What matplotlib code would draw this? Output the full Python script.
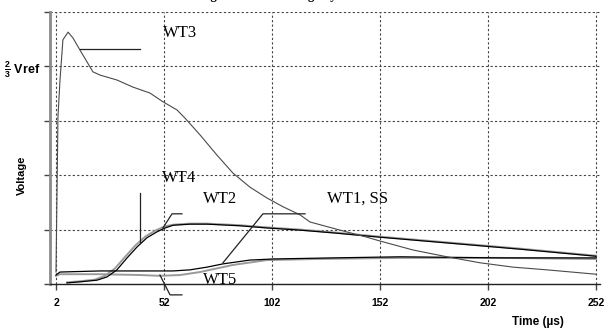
import matplotlib.pyplot as plt

plt.rcParams['font.family'] = ['Liberation Sans', 'DejaVu Sans']
plt.rcParams['mathtext.fontset'] = 'custom'
plt.rcParams['mathtext.rm'] = 'Liberation Sans:bold'
plt.rcParams['mathtext.bf'] = 'Liberation Sans:bold'

# time axis in microseconds, voltage in grid divisions (4 div = 2/3 Vref)
xticks = [2, 52, 102, 152, 202, 252]
yticks = [0, 1, 2, 3, 4, 5]
ytick_labels = ['', '', '', '', r'$\frac{2}{3}$ Vref', '']

wt3_t = [2.0, 2.4, 2.9, 3.85, 5.2, 7.6, 9.9, 13.1, 16.4, 19.1, 22.4, 30.2, 37.6,
         45.5, 51.5, 58.0, 61.7, 68.7, 76.5, 83.9, 91.8, 99.7, 107.1, 115.0,
         119.6, 133.5, 146.0, 152.0, 167.3, 183.0, 198.3, 213.6, 229.3, 252.0]
wt3_v = [0.22, 1.5, 3.07, 3.75, 4.49, 4.63, 4.52, 4.30, 4.08, 3.90, 3.84, 3.75,
         3.62, 3.51, 3.35, 3.20, 3.05, 2.74, 2.37, 2.04, 1.78, 1.58, 1.42, 1.27,
         1.14, 0.99, 0.86, 0.79, 0.625, 0.50, 0.39, 0.31, 0.26, 0.18]

wt2_t = [7.1, 13.1, 21.0, 25.6, 30.2, 34.9, 39.5, 44.1, 48.8, 52.5, 56.2, 64.0,
         71.9, 87.2, 99.7, 115.0, 130.2, 152.0, 184.4, 216.8, 252.0]
wt2_v = [0.02, 0.04, 0.07, 0.13, 0.26, 0.48, 0.68, 0.85, 0.96, 1.03, 1.08, 1.10,
         1.10, 1.07, 1.03, 0.99, 0.94, 0.86, 0.75, 0.64, 0.51]

wt4_t = [7.1, 13.1, 20.0, 24.6, 29.4, 34.0, 38.8, 43.6, 48.4, 52.5, 56.2, 64.0,
         71.9, 87.2, 99.7, 115.0, 130.2, 152.0, 184.4, 216.8, 252.0]
wt4_v = [0.03, 0.05, 0.08, 0.15, 0.29, 0.50, 0.71, 0.88, 0.99, 1.06, 1.09, 1.11,
         1.11, 1.08, 1.04, 1.00, 0.95, 0.87, 0.76, 0.65, 0.52]

wt1_t = [2.0, 3.85, 22.4, 56.2, 64.0, 71.9, 79.3, 91.8, 102.5, 130.2, 161.3,
         207.6, 252.0]
wt1_v = [0.165, 0.22, 0.24, 0.24, 0.26, 0.31, 0.37, 0.44, 0.46, 0.48, 0.50,
         0.48, 0.48]

wt5_t = [2.0, 3.85, 22.4, 40.9, 50.1, 59.4, 68.7, 83.9, 99.7, 122.8, 161.3,
         207.6, 252.0]
wt5_v = [0.15, 0.18, 0.18, 0.165, 0.15, 0.165, 0.22, 0.35, 0.44, 0.46, 0.48,
         0.48, 0.46]

fig = plt.figure(figsize=(6.05, 3.29), dpi=100)
ax = fig.add_axes([50 / 605, 45 / 329, 550 / 605, 272 / 329])

ax.plot(wt4_t, wt4_v, color='#9a9a9a', lw=1.4)
ax.plot(wt5_t, wt5_v, color='#9a9a9a', lw=1.4)
ax.plot(wt2_t, wt2_v, color='black', lw=0.9)
ax.plot(wt1_t, wt1_v, color='black', lw=0.9)
ax.plot(wt3_t, wt3_v, color='#4a4a4a', lw=0.8)

ax.set_xlim(-0.78, 253.85)
ax.set_ylim(0, 5)
ax.set_xticks(xticks)
ax.set_xticklabels([str(t) for t in xticks], fontweight='bold', fontsize=7.5)
ax.set_yticks(yticks)
ax.set_yticklabels(ytick_labels, fontweight='bold', fontsize=9)
ax.tick_params(axis='both', direction='out', length=4, width=1, color='#444444')
ax.tick_params(axis='x', pad=6)
ax.tick_params(axis='y', pad=3)
ax.grid(True, color='#444444', lw=0.8, linestyle=(0, (2, 2)))

for side in ['top', 'right']:
    ax.spines[side].set_visible(False)
ax.spines['left'].set_color('#8a8a8a')
ax.spines['left'].set_linewidth(2)
ax.spines['bottom'].set_color('#222222')
ax.spines['bottom'].set_linewidth(1)

# curve labels with leader lines
lbl = dict(fontfamily='Liberation Serif', fontsize=12, va='center', ha='left')
lead = dict(color='#222222', lw=0.9, clip_on=False)

ax.text(51.5, 4.61, 'WT3', **lbl)
ax.plot([13.1, 40.9], [4.32, 4.32], **lead)

ax.text(51.1, 1.95, 'WT4', **lbl)
ax.plot([40.9, 40.9], [1.67, 0.75], **lead)

ax.text(70.1, 1.56, 'WT2', **lbl)
ax.plot([60.3, 55.7, 51.5], [1.29, 1.29, 1.03], **lead)

ax.text(127.5, 1.56, 'WT1, SS', **lbl)
ax.plot([117.3, 97.8, 79.3], [1.29, 1.29, 0.39], **lead)

ax.text(70.1, 0.07, 'WT5', **lbl)
ax.plot([50.1, 54.8, 60.3], [0.165, -0.2, -0.2], **lead)

fig.text(182 / 605, 1 + 1 / 329, 'Charge and Hold Voltage by WT',
         fontfamily='Liberation Serif', fontweight='bold', fontsize=9.2,
         ha='left', va='baseline')
fig.text(22 / 605, 1 - 175 / 329, 'Voltage', rotation=90, fontweight='bold',
         fontsize=8, ha='center', va='center')
fig.text(538 / 605, 1 - 322 / 329, 'Time (µs)', fontweight='bold',
         fontsize=8.5, ha='center', va='center')

fig.savefig('out.png', dpi=100)
